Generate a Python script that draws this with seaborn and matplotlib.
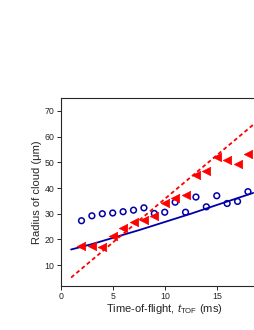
import matplotlib
matplotlib.use("Agg")
import matplotlib.pyplot as plt
import seaborn as sns
import pandas as pd

# measured cloud radius vs time-of-flight
t_ms = [2, 3, 4, 5, 6, 7, 8, 9, 10, 11, 12, 13, 14, 15, 16, 17, 18]
r_blue = [27.3, 29.2, 30.0, 30.3, 30.8, 31.4, 32.3, 30.1, 30.6, 34.5,
          30.6, 36.5, 32.7, 37.0, 34.0, 34.8, 38.6]
r_red = [17.4, 17.4, 17.1, 21.4, 24.3, 26.8, 27.5, 29.1, 34.0, 36.2,
         37.3, 45.2, 46.5, 52.0, 51.0, 49.4, 53.4]

# fit curves
fit_t_blue = [1, 3, 5, 7.5, 10, 12.5, 15, 18.5]
fit_r_blue = [16.1, 18.2, 20.6, 23.6, 26.8, 30.0, 33.4, 38.1]
fit_t_red = [1, 18.5]
fit_r_red = [5.2, 64.6]

blue = "#0000a8"
red = "#ff0000"

sns.set_style("ticks")
plt.rcParams["font.family"] = ["Liberation Sans", "DejaVu Sans"]
plt.rcParams["mathtext.fontset"] = "custom"
plt.rcParams["mathtext.rm"] = "Liberation Sans"
plt.rcParams["mathtext.it"] = "Liberation Sans:italic"

fig = plt.figure(figsize=(2.55, 3.3), dpi=100)
ax = fig.add_axes([0.238, 0.134, 0.816, 0.569])

df = pd.DataFrame({"t": t_ms, "blue": r_blue, "red": r_red})

sns.lineplot(x=fit_t_blue, y=fit_r_blue, ax=ax, color=blue, lw=1.3)
sns.lineplot(x=fit_t_red, y=fit_r_red, ax=ax, color=red, lw=1.3,
             linestyle=(0, (2.2, 1.6)))
sns.scatterplot(data=df, x="t", y="blue", ax=ax, marker="o", s=17,
                facecolor="none", edgecolor=blue, linewidth=1.1, zorder=3)
sns.scatterplot(data=df, x="t", y="red", ax=ax, marker="<", s=36,
                color=red, edgecolor=red, linewidth=0.5, zorder=3)

ax.set_xlim(0, 20)
ax.set_ylim(2, 75)
ax.set_xticks([0, 5, 10, 15])
ax.set_yticks([10, 20, 30, 40, 50, 60, 70])
ax.tick_params(labelsize=6.3, length=3, width=0.7, pad=1.5)
for s in ax.spines.values():
    s.set_linewidth(0.8)

ax.set_xlabel(r"Time-of-flight, $t_{\mathrm{TOF}}$ (ms)", fontsize=8, labelpad=1)
ax.set_ylabel("Radius of cloud (μm)", fontsize=8, labelpad=2)

fig.savefig("out.png", dpi=100)
